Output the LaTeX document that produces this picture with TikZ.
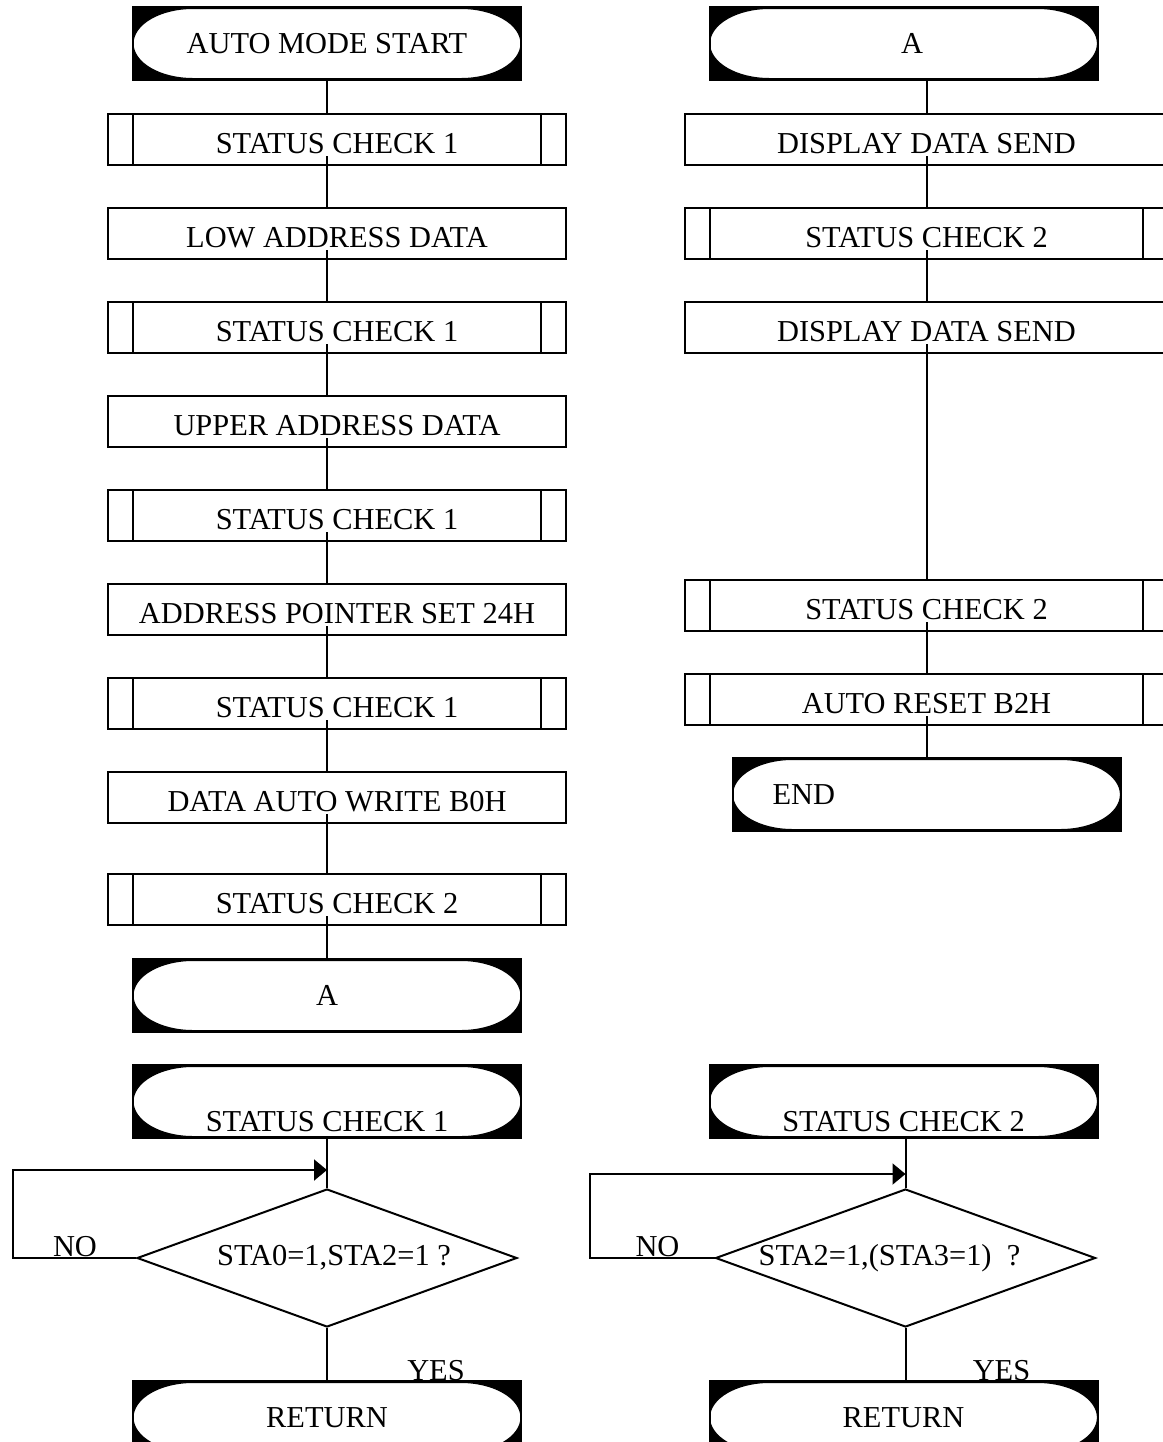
\documentclass[tikz,border=0pt]{standalone}
\usepackage{fontspec}
\setmainfont{Liberation Serif}
\usetikzlibrary{positioning}
\usetikzlibrary{shapes.geometric}
\usetikzlibrary{arrows.meta}

\begin{document}
\begin{tikzpicture}[x=0.5pt,y=-0.5pt]
    \tikzstyle{every node}=[font=\fontsize{15.2}{18}\selectfont,inner sep=0pt]
    \tikzstyle{every path}=[line width=1pt]
    \tikzstyle{term}=[draw=black,fill=black,minimum width=194pt,minimum height=36.5pt,
        path picture={\filldraw[white,draw=black,line width=0.6pt]
          ([xshift=30pt,yshift=-0.7pt]path picture bounding box.north west)
          -- ([xshift=-30pt,yshift=-0.7pt]path picture bounding box.north east)
          arc[start angle=90,end angle=-90,x radius=30pt,y radius=17.55pt]
          -- ([xshift=30pt,yshift=0.7pt]path picture bounding box.south west)
          arc[start angle=270,end angle=90,x radius=30pt,y radius=17.55pt] -- cycle;}]
    \tikzstyle{proc}=[draw=black,minimum width=229pt,minimum height=25.5pt,text height=14pt,text depth=0pt]
    \tikzstyle{wproc}=[proc,minimum width=241.5pt]
    \tikzstyle{sub}=[path picture={
          \draw ([xshift=12.5pt]path picture bounding box.north west) -- ([xshift=12.5pt]path picture bounding box.south west)
                ([xshift=-12.5pt]path picture bounding box.north east) -- ([xshift=-12.5pt]path picture bounding box.south east);}]
    \tikzstyle{decide}=[draw=black,diamond,aspect=2.75,minimum width=190pt,minimum height=69pt]
    \tikzstyle{lbl}=[anchor=base]
    \tikzstyle{back}=[-{Triangle[length=6.5pt,width=10.5pt]}]

    \useasboundingbox (0,0) rectangle (1163,1442);

    % main routine
    \node[term] (start) at (327,43.5) {AUTO MODE START};
    \node[proc,sub,below=16pt of start,xshift=5pt] (sca) {STATUS CHECK 1};
    \node[proc,below=20.5pt of sca] (lowad) {LOW ADDRESS DATA};
    \node[proc,sub,below=20.5pt of lowad] (scb) {STATUS CHECK 1};
    \node[proc,below=20.5pt of scb] (upad) {UPPER ADDRESS DATA};
    \node[proc,sub,below=20.5pt of upad] (scc) {STATUS CHECK 1};
    \node[proc,below=20.5pt of scc] (apset) {ADDRESS POINTER SET 24H};
    \node[proc,sub,below=20.5pt of apset] (scd) {STATUS CHECK 1};
    \node[proc,below=20.5pt of scd] (daw) {DATA AUTO WRITE B0H};
    \node[proc,sub,below=24.5pt of daw] (sce) {STATUS CHECK 2};
    \node[term,below=16pt of sce,xshift=-5pt] (ta) {A};

    \draw (start.south) -- (sca.north -| start);
    \foreach \a/\b in {sca/lowad,lowad/scb,scb/upad,upad/scc,scc/apset,apset/scd,scd/daw,daw/sce}
      \draw[shorten <=-5pt] (\a.south -| start) -- (\b.north -| start);
    \draw[shorten <=-5pt] (sce.south -| start) -- (ta.north);

    % continued from A
    \node[term] (ra) at (903.5,43.5) {A\hspace*{-8.5pt}};
    \node[wproc,below=16pt of ra,xshift=11.5pt] (dds1) {DISPLAY DATA SEND};
    \node[wproc,sub,below=20.5pt of dds1] (scf) {STATUS CHECK 2};
    \node[wproc,below=20.5pt of scf] (dds2) {DISPLAY DATA SEND};
    \node[wproc,sub,below=112.5pt of dds2] (scg) {STATUS CHECK 2};
    \node[wproc,sub,below=20.5pt of scg] (arst) {AUTO RESET B2H};
    \node[term,below=15.5pt of arst,text width=154pt,inner xsep=20pt,align=left] (fin) {END};

    \draw (ra.south -| dds1) -- (dds1.north);
    \foreach \a/\b in {dds1/scf,scf/dds2,dds2/scg,scg/arst,arst/fin}
      \draw[shorten <=-5pt] (\a.south) -- (\b.north -| \a);

    % status check 1
    \node[term] (hd1) at (327,1101.5) {\raisebox{-14.8pt}[0pt][0pt]{STATUS CHECK 1}};
    \node[decide,below=24.5pt of hd1] (dia1) {STA0=1,STA2=1 ?\hspace*{-7pt}};
    \node[term,below=26pt of dia1] (ret1) {RETURN};
    \coordinate (lp1) at (13,1170);
    \draw (hd1.south) -- (dia1.north);
    \draw (dia1.south) -- (ret1.north);
    \draw[back] (dia1.west) -| (lp1) -- (lp1 -| dia1.north);
    \node[lbl] (no1) at ([xshift=-30.5pt,yshift=1pt]dia1.west) {NO};
    \node[lbl] (yes1) at ([xshift=54.5pt]ret1.north) {YES};

    % status check 2
    \node[term] (hd2) at (903.5,1101.5) {\raisebox{-14.8pt}[0pt][0pt]{STATUS CHECK 2}};
    \node[decide,below=24.5pt of hd2,xshift=1pt] (dia2) {\hspace*{-16pt}STA2=1,(STA3=1)\ \ ?};
    \node[term,below=26pt of dia2,xshift=-1pt] (ret2) {RETURN};
    \coordinate (lp2) at (590,1174);
    \draw (hd2.south -| dia2.north) -- (dia2.north);
    \draw (dia2.south) -- (dia2.south |- ret2.north);
    \draw[back] (dia2.west) -| (lp2) -- (lp2 -| dia2.north);
    \node[lbl] (no2) at ([xshift=-28.5pt,yshift=1pt]dia2.west) {NO};
    \node[lbl] (yes2) at ([xshift=49pt]ret2.north) {YES};
\end{tikzpicture}
\end{document}
